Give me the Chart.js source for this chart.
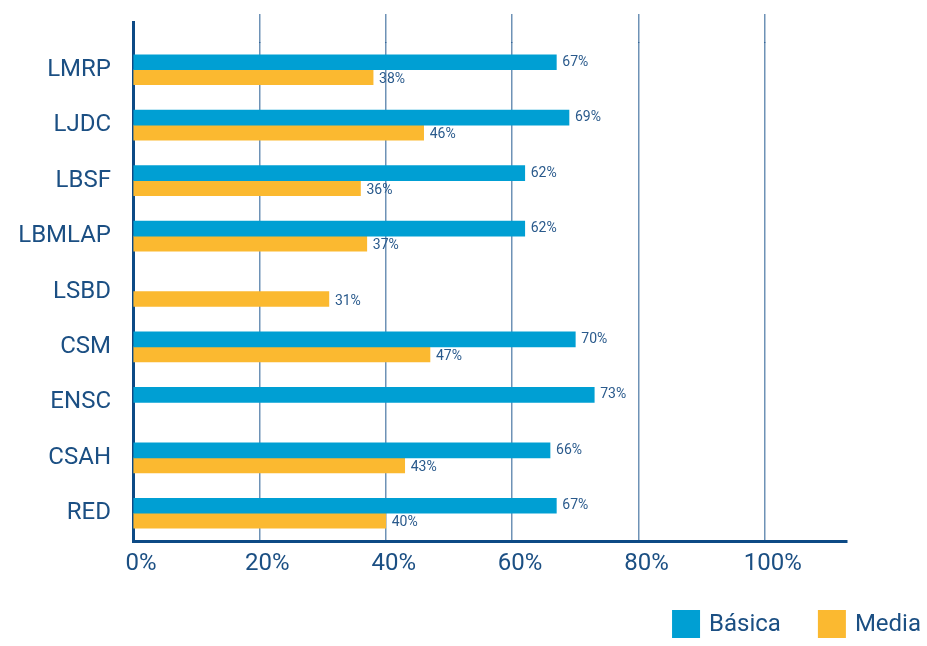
<!DOCTYPE html>
<html>
<head>
<meta charset="utf-8">
<script src="https://cdn.jsdelivr.net/npm/chart.js@4"></script>
<style>
  html, body { margin: 0; padding: 0; background: #fff; }
  #wrap { width: 927px; height: 646px; }
</style>
</head>
<body>
<div id="wrap"><canvas id="chart"></canvas></div>
<script>
// Categories (top to bottom)
const categories = ["LMRP", "LJDC", "LBSF", "LBMLAP", "LSBD", "CSM", "ENSC", "CSAH", "RED"];
// Percentages per level (null = no bar)
const basica = [67, 69, 62, 62, null, 70, 73, 66, 67];
const media = [38, 46, 36, 37, 31, 47, null, 43, 40];
const xTicks = [0, 20, 40, 60, 80, 100];

const navy = "#1b4f83";
const gridColor = "rgba(13,74,133,0.6)";
const font = "Roboto, 'Open Sans', sans-serif";

// same pixel snapping as Chart.js uses for its grid lines
const align = (px, w) => {
  const half = Math.max(w / 2, 0.5);
  return Math.round(px - half) + half;
};

// Value labels to the right of each bar
const barLabels = {
  id: "barLabels",
  afterDraw(chart) {
    const ctx = chart.ctx;
    ctx.save();
    ctx.fillStyle = "#2a5a8c";
    ctx.font = "14px " + font;
    ctx.textAlign = "left";
    ctx.textBaseline = "middle";
    chart.data.datasets.forEach((ds, i) => {
      chart.getDatasetMeta(i).data.forEach((bar, j) => {
        const v = ds.data[j];
        if (v == null) return;
        ctx.fillText(v + "%", bar.x + 6, bar.y + (i === 1 ? 2 : 0));
      });
    });
    ctx.restore();
  }
};

// Extend vertical grid lines and the left axis a bit above the plot area
const gridTop = {
  id: "gridTop",
  afterDraw(chart) {
    const ctx = chart.ctx;
    const x = chart.scales.x;
    const top = chart.chartArea.top + 1;
    ctx.save();
    ctx.strokeStyle = gridColor;
    ctx.lineWidth = 1.5;
    x.ticks.forEach(t => {
      if (t.value === 0) return;
      const px = align(x.getPixelForValue(t.value), 1.5);
      ctx.beginPath();
      ctx.moveTo(px, 14);
      ctx.lineTo(px, top);
      ctx.stroke();
    });
    ctx.strokeStyle = "#0d4a85";
    ctx.lineWidth = 3;
    ctx.beginPath();
    const lx = align(chart.chartArea.left, 3);
    ctx.moveTo(lx, 21);
    ctx.lineTo(lx, top);
    ctx.stroke();
    ctx.restore();
  }
};

// Legend in the lower right corner
const sideLegend = {
  id: "sideLegend",
  afterDraw(chart) {
    const ctx = chart.ctx;
    const box = 28, gap = 37, textGap = 9;
    ctx.save();
    ctx.font = "24px " + font;
    ctx.textBaseline = "middle";
    ctx.textAlign = "left";
    const items = chart.data.datasets.map(ds => ({
      text: ds.label, color: ds.backgroundColor, w: box + textGap + ctx.measureText(ds.label).width
    }));
    const total = items.reduce((s, it) => s + it.w, 0) + gap * (items.length - 1);
    let x = chart.width - 6 - total;
    const y = 610;
    items.forEach(it => {
      ctx.fillStyle = it.color;
      ctx.fillRect(x, y, box, box);
      ctx.fillStyle = navy;
      ctx.fillText(it.text, x + box + textGap, y + box / 2 + 1);
      x += it.w + gap;
    });
    ctx.restore();
  }
};

new Chart(document.getElementById("chart"), {
  type: "bar",
  plugins: [barLabels, gridTop, sideLegend],
  data: {
    labels: categories,
    datasets: [
      { label: "Básica", data: basica, backgroundColor: "#009fd3", barThickness: 15 },
      { label: "Media", data: media, backgroundColor: "#fbb930", barThickness: 15 }
    ]
  },
  options: {
    indexAxis: "y",
    responsive: true,
    maintainAspectRatio: false,
    animation: false,
    layout: { padding: { top: 42, right: 80, bottom: 55, left: 0 } },
    scales: {
      x: {
        min: 0,
        max: 113,
        z: 1,
        afterBuildTicks: s => { s.ticks = xTicks.map(v => ({ value: v })); },
        afterFit: s => { s.height = 50; },
        grid: {
          color: gridColor,
          lineWidth: 1.5,
          drawTicks: false
        },
        border: { color: "#0d4a85", width: 3 },
        ticks: {
          color: navy,
          font: { family: font, size: 24 },
          padding: 9,
          labelOffset: 8,
          callback: v => v + "%"
        }
      },
      y: {
        z: 1,
        afterFit: s => { s.width = 133; },
        grid: { display: false, drawTicks: false },
        border: { color: "#0d4a85", width: 3 },
        ticks: {
          color: navy,
          font: { family: font, size: 24 },
          padding: 22
        }
      }
    },
    plugins: {
      tooltip: { enabled: false },
      legend: { display: false }
    }
  }
});
</script>
</body>
</html>
